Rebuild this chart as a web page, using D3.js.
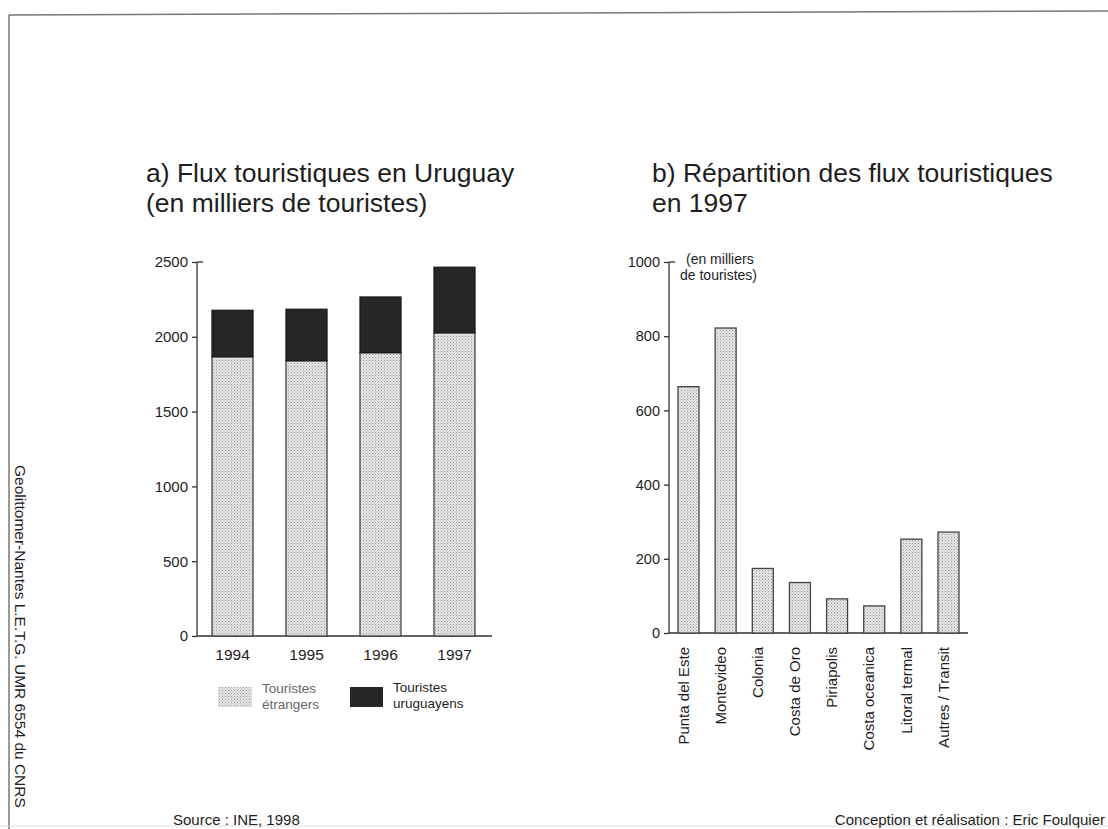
<!DOCTYPE html>
<html><head><meta charset="utf-8">
<script src="https://cdn.jsdelivr.net/npm/d3@7"></script>
<style>
html,body{margin:0;padding:0;background:#fff;}
svg{display:block;font-family:"Liberation Sans",Arial,Helvetica,sans-serif;}
</style></head>
<body><svg id="c" width="1108" height="829"></svg>
<script>
// ---- data ----
const years = ["1994","1995","1996","1997"];
const foreignTourists = [1867, 1840, 1894, 2027];
const uruguayanTourists = [310, 344, 372, 438];
const leftTicks = [0, 500, 1000, 1500, 2000, 2500];

const destinations = ["Punta del Este","Montevideo","Colonia","Costa de Oro","Piriapolis","Costa oceanica","Litoral termal","Autres / Transit"];
const destValues = [664, 822, 174, 136, 92, 73, 253, 272];
const rightTicks = [0, 200, 400, 600, 800, 1000];

const svg = d3.select("#c");
const ink = "#1e1e1e";
const FF = "Liberation Sans, Arial, sans-serif";

// pattern for light bars
const defs = svg.append("defs");
const pat = defs.append("pattern").attr("id","dots").attr("patternUnits","userSpaceOnUse")
  .attr("width",3).attr("height",3);
pat.append("rect").attr("width",3).attr("height",3).attr("fill","#e4e4e4");
pat.append("rect").attr("x",0).attr("y",0).attr("width",1).attr("height",1).attr("fill","#9c9c9c");
pat.append("rect").attr("x",1.5).attr("y",1.5).attr("width",1).attr("height",1).attr("fill","#bdbdbd");

// frame
svg.append("line").attr("x1",9).attr("y1",15).attr("x2",1108).attr("y2",11).attr("stroke","#777").attr("stroke-width",1.5);
svg.append("line").attr("x1",9).attr("y1",15).attr("x2",9).attr("y2",829).attr("stroke","#777").attr("stroke-width",1.5);
svg.append("line").attr("x1",0).attr("y1",826).attr("x2",1108).attr("y2",826).attr("stroke","#ddd").attr("stroke-width",1);

// side text
svg.append("text").attr("transform","translate(15,465) rotate(90)")
  .attr("font-size",15.5).attr("fill",ink).text("Geolittomer-Nantes L.E.T.G. UMR 6554 du CNRS");

// footer
svg.append("text").attr("x",173).attr("y",825).attr("font-size",15).attr("fill",ink).text("Source : INE, 1998");
svg.append("text").attr("x",1105).attr("y",825).attr("text-anchor","end").attr("font-size",15).attr("fill",ink).text("Conception et réalisation : Eric Foulquier");

// titles
function title(x, lines){
  lines.forEach((t,i)=>svg.append("text").attr("x",x).attr("y",182+i*30).attr("font-size",26.5).attr("fill",ink).text(t));
}
title(146, ["a) Flux touristiques en Uruguay","(en milliers de touristes)"]);
title(652, ["b) Répartition des flux touristiques","en 1997"]);

// ---- left chart ----
const yL = d3.scaleLinear().domain([0,2500]).range([636,262]);
const xL = d3.scaleBand().domain(years).range([212,475]).paddingInner(0.446).paddingOuter(0);
const axL = svg.append("g").attr("transform","translate(197,0)")
  .call(d3.axisLeft(yL).tickValues(leftTicks).tickFormat(d3.format("d")).tickSize(5).tickSizeOuter(0).tickPadding(4));
axL.selectAll("text").attr("font-size",15).attr("fill",ink).attr("font-family",FF);
axL.selectAll("line,path").attr("stroke","#333").attr("stroke-width",1.3);
axL.select(".domain").attr("d",`M0,${yL(2500)}V${yL(0)}`);
svg.append("line").attr("x1",197).attr("x2",203).attr("y1",yL(2500)).attr("y2",yL(2500)).attr("stroke","#333").attr("stroke-width",1.3);
svg.append("line").attr("x1",197).attr("x2",492).attr("y1",yL(0)).attr("y2",yL(0)).attr("stroke","#333").attr("stroke-width",1.5);

const gL = svg.append("g");
years.forEach((yr,i)=>{
  const f = foreignTourists[i], u = uruguayanTourists[i];
  gL.append("rect").attr("x",xL(yr)).attr("width",xL.bandwidth())
    .attr("y",yL(f)).attr("height",yL(0)-yL(f))
    .attr("fill","url(#dots)").attr("stroke","#444").attr("stroke-width",1.3);
  gL.append("rect").attr("x",xL(yr)).attr("width",xL.bandwidth())
    .attr("y",yL(f+u)).attr("height",yL(f)-yL(f+u))
    .attr("fill","#262626").attr("stroke","#1a1a1a").attr("stroke-width",1.3);
});
const xAxL = svg.append("g").attr("transform",`translate(0,${yL(0)})`)
  .call(d3.axisBottom(xL).tickSize(0).tickPadding(13));
xAxL.select(".domain").remove();
xAxL.selectAll("text").attr("font-size",15.5).attr("fill",ink).attr("font-family",FF);

// legend
svg.append("rect").attr("x",218).attr("y",687).attr("width",34).attr("height",20).attr("fill","url(#dots)");
svg.append("text").attr("x",262).attr("y",693).attr("font-size",13.5).attr("fill","#666").text("Touristes");
svg.append("text").attr("x",262).attr("y",709).attr("font-size",13.5).attr("fill","#666").text("étrangers");
svg.append("rect").attr("x",350).attr("y",687).attr("width",33).attr("height",20).attr("fill","#262626");
svg.append("text").attr("x",393).attr("y",692).attr("font-size",13.5).attr("fill",ink).text("Touristes");
svg.append("text").attr("x",393).attr("y",708).attr("font-size",13.5).attr("fill",ink).text("uruguayens");

// ---- right chart ----
const yR = d3.scaleLinear().domain([0,1000]).range([633,262]);
const xR = d3.scaleBand().domain(destinations).range([678,959]).paddingInner(0.435).paddingOuter(0);
const axR = svg.append("g").attr("transform","translate(669,0)")
  .call(d3.axisLeft(yR).tickValues(rightTicks).tickFormat(d3.format("d")).tickSize(5).tickSizeOuter(0).tickPadding(4));
axR.selectAll("text").attr("font-size",14.5).attr("fill",ink).attr("font-family",FF);
axR.selectAll("line,path").attr("stroke","#333").attr("stroke-width",1.3);
axR.select(".domain").attr("d",`M0,${yR(1000)}V${yR(0)}`);
svg.append("line").attr("x1",669).attr("x2",675).attr("y1",yR(1000)).attr("y2",yR(1000)).attr("stroke","#333").attr("stroke-width",1.3);
svg.append("line").attr("x1",669).attr("x2",968).attr("y1",yR(0)).attr("y2",yR(0)).attr("stroke","#333").attr("stroke-width",1.5);
svg.append("text").attr("x",686).attr("y",264).attr("font-size",14).attr("fill",ink).text("(en milliers");
svg.append("text").attr("x",680).attr("y",280).attr("font-size",14).attr("fill",ink).text("de touristes)");

const gR = svg.append("g");
destinations.forEach((d,i)=>{
  gR.append("rect").attr("x",xR(d)).attr("width",xR.bandwidth())
    .attr("y",yR(destValues[i])).attr("height",yR(0)-yR(destValues[i]))
    .attr("fill","url(#dots)").attr("stroke","#444").attr("stroke-width",1.3);
});
const xAxR = svg.append("g").attr("transform",`translate(-5,${yR(0)})`)
  .call(d3.axisBottom(xR).tickSize(0).tickPadding(0));
xAxR.select(".domain").remove();
xAxR.selectAll("text").attr("font-size",15).attr("fill",ink).attr("font-family",FF)
  .attr("text-anchor","end").attr("transform","rotate(-90)").attr("x",-14).attr("y",0).attr("dy","0.35em");
</script></body></html>
